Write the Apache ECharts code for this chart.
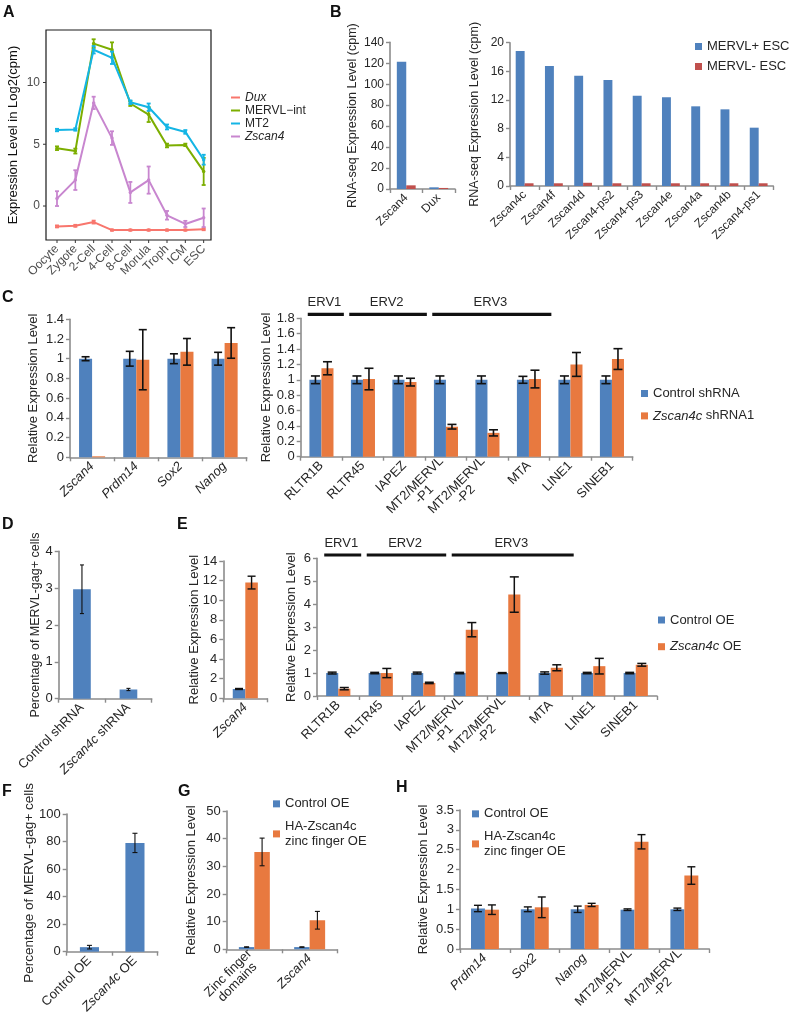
<!DOCTYPE html>
<html><head><meta charset="utf-8">
<script src="https://cdn.jsdelivr.net/npm/echarts@6/dist/echarts.min.js"></script>
<style>html,body{margin:0;padding:0;background:#fff}#c{width:791px;height:1032px}</style>
</head><body><div id="c"></div>
<script>
// ================= DATA =================
// Panel A
const stagesA = ['Oocyte','Zygote','2-Cell','4-Cell','8-Cell','Morula','Troph','ICM','ESC'];
const duxA = [-1.65,-1.6,-1.3,-1.95,-1.95,-1.95,-1.95,-1.95,-1.88];
const duxErrA = [0.08,0.08,0.12,0.05,0.05,0.05,0.05,0.05,0.08];
const mervlA = [4.68,4.45,13.15,12.65,8.3,7.4,4.9,4.95,2.8];
const mervlErrA = [0.15,0.2,0.35,0.6,0.2,0.6,0.15,0.1,1.1];
const mt2A = [6.15,6.2,12.65,12.0,8.4,8.0,6.4,6.0,3.75];
const mt2ErrA = [0.1,0.1,0.3,0.5,0.15,0.3,0.2,0.15,0.4];
const zscan4A = [0.6,2.1,8.35,5.5,1.1,2.1,-0.75,-1.45,-0.95];
const zscan4ErrA = [0.6,0.8,0.5,0.55,0.85,1.1,0.35,0.25,0.75];
const seriesNamesA = ['Dux','MERVL\u2212int','MT2','Zscan4'];
const yTicksA = [0,5,10];

// Panel B
const genesB1 = ['Zscan4','Dux'];
const posB1 = [121.5,1.6];
const negB1 = [3.5,1.0];
const genesB2 = ['Zscan4c','Zscan4f','Zscan4d','Zscan4-ps2','Zscan4-ps3','Zscan4e','Zscan4a','Zscan4b','Zscan4-ps1'];
const posB2 = [18.84,16.75,15.4,14.8,12.6,12.38,11.12,10.7,8.14];
const negB2 = [0.38,0.38,0.45,0.38,0.38,0.38,0.38,0.38,0.38];
const namesB = ['MERVL+ ESC','MERVL- ESC'];

// Panel C
const genesC1 = ['Zscan4','Prdm14','Sox2','Nanog'];
const ctrlC1 = [1.0,1.0,1.0,1.0];
const ctrlErrC1 = [0.02,0.075,0.05,0.065];
const kdC1 = [0.01,0.99,1.07,1.16];
const kdErrC1 = [0,0.305,0.135,0.155];
const repeatsC2 = ['RLTR1B','RLTR45','IAPEZ','MT2/MERVL\n-P1','MT2/MERVL\n-P2','MTA','LINE1','SINEB1'];
const ctrlC2 = [1,1,1,1,1,1,1,1];
const ctrlErrC2 = [0.05,0.05,0.05,0.05,0.05,0.045,0.05,0.05];
const kdC2 = [1.15,1.01,0.97,0.39,0.31,1.01,1.2,1.27];
const kdErrC2 = [0.085,0.14,0.05,0.03,0.04,0.115,0.155,0.135];
const namesC = ['Control shRNA','Zscan4c shRNA1'];
const ervNames = ['ERV1','ERV2','ERV3'];
const ervFrom = [0,1,3];
const ervTo = [0,2,5];

// Panel D
const catsD = ['Control shRNA','Zscan4c shRNA'];
const valsD = [2.97,0.25];
const errD = [0.66,0.03];

// Panel E
const genesE1 = ['Zscan4'];
const ctrlE1 = [0.95];
const ctrlErrE1 = [0.05];
const oeE1 = [11.8];
const oeErrE1 = [0.65];
const repeatsE2 = ['RLTR1B','RLTR45','IAPEZ','MT2/MERVL\n-P1','MT2/MERVL\n-P2','MTA','LINE1','SINEB1'];
const ctrlE2 = [1,1,1,1,1,1,1,1];
const ctrlErrE2 = [0.04,0.03,0.04,0.03,0.02,0.05,0.03,0.03];
const oeE2 = [0.32,1.0,0.57,2.89,4.42,1.23,1.3,1.36];
const oeErrE2 = [0.05,0.2,0.03,0.31,0.77,0.13,0.34,0.06];
const namesE = ['Control OE','Zscan4c OE'];

// Panel F
const catsF = ['Control OE','Zscan4c OE'];
const valsF = [3.3,79];
const errF = [1.3,7];

// Panel G
const catsG = ['Zinc finger\ndomains','Zscan4'];
const ctrlG = [0.8,0.8];
const ctrlErrG = [0.1,0.1];
const oeG = [35.2,10.5];
const oeErrG = [5,3.2];
const namesGH = ['Control OE','HA-Zscan4c\nzinc finger OE'];

// Panel H
const genesH = ['Prdm14','Sox2','Nanog','MT2/MERVL\n-P1','MT2/MERVL\n-P2'];
const ctrlH = [1.02,1.0,1.0,0.99,1.0];
const ctrlErrH = [0.08,0.06,0.08,0.02,0.03];
const oeH = [0.99,1.05,1.11,2.7,1.85];
const oeErrH = [0.12,0.26,0.04,0.18,0.22];

// ================= STYLE =================
const FONT = '"Liberation Sans", Arial, Helvetica, sans-serif';
const BLUE = '#4F81BD', ORANGE = '#E8793F', RED = '#C0504D';
const AX = '#8C8C8C', TXT = '#262626';
const colorsA = ['#F8766D','#7CAE00','#14B5E5','#C886CF'];

const grids = [], xAxes = [], yAxes = [], series = [], legends = [];

function richSet(fs) {
  return {
    i: {fontStyle:'italic', fontSize:fs, color:TXT, fontFamily:FONT},
    n: {fontSize:fs, color:TXT, fontFamily:FONT},
    c: {fontSize:fs, color:TXT, fontFamily:FONT, align:'center'}
  };
}
function mkFmt(italicWords) {
  return function (v) {
    if (v.indexOf('\n') >= 0) return v.split('\n').map(l => '{c|' + l + '}').join('\n');
    for (const w of italicWords) {
      if (v === w) return '{i|' + v + '}';
      if (v.indexOf(w + ' ') === 0) return '{i|' + w + '}{n|' + v.slice(w.length) + '}';
    }
    return '{n|' + v + '}';
  };
}

function errRender(k, n, gap, cap, lw, color) {
  return function (params, api) {
    const i = api.value(0), v = api.value(1), e = api.value(2);
    if (!e) return null;
    const band = api.size([1, 0])[0];
    const bw = band * (1 - gap) / n;
    const cx = api.coord([i, v])[0] + (k - (n - 1) / 2) * bw;
    const yt = api.coord([i, v + e])[1], yb = api.coord([i, v - e])[1];
    const st = {stroke: color, lineWidth: lw};
    return {type:'group', children:[
      {type:'line', shape:{x1:cx,y1:yt,x2:cx,y2:yb}, style:st},
      {type:'line', shape:{x1:cx-cap,y1:yt,x2:cx+cap,y2:yt}, style:st},
      {type:'line', shape:{x1:cx-cap,y1:yb,x2:cx+cap,y2:yb}, style:st}
    ]};
  };
}

function addBarPanel(cfg) {
  const gi = grids.length;
  const fs = cfg.fs || 13;
  grids.push({left:cfg.rect[0], top:cfg.rect[1], width:cfg.rect[2], height:cfg.rect[3], outerBoundsMode:'none', containLabel:false});
  xAxes.push({
    gridIndex:gi, type:'category', data:cfg.cats,
    axisLine:{show:true, onZero:false, lineStyle:{color:AX, width:1.6}},
    axisTick:{show:true, alignWithLabel:false, length:4, lineStyle:{color:AX, width:1.4}},
    axisLabel:{interval:0, rotate:45, margin:cfg.xMargin || 7, fontSize:fs, color:TXT,
      formatter: mkFmt(cfg.italic || []), rich: richSet(fs)}
  });
  yAxes.push({
    gridIndex:gi, type:'value', min:0, max:cfg.max, interval:cfg.interval,
    name:cfg.yname, nameLocation:'middle', nameRotate:90, nameGap:cfg.nameGap, nameMoveOverlap:false,
    nameTextStyle:{fontSize:cfg.nfs || 13, color:TXT, fontFamily:FONT},
    axisLine:{show:true, onZero:false, lineStyle:{color:AX, width:1.6}},
    axisTick:{show:true, length:4, lineStyle:{color:AX, width:1.4}},
    splitLine:{show:false},
    axisLabel:{fontSize:fs, color:TXT, margin:6}
  });
  const n = cfg.series.length;
  cfg.series.forEach((s, k) => {
    series.push({type:'bar', name:s.name, xAxisIndex:gi, yAxisIndex:gi, data:s.data,
      barGap:'0%', barCategoryGap:(cfg.gap*100)+'%', itemStyle:{color:s.color}, silent:true, z:2});
    if (s.err) {
      series.push({type:'custom', xAxisIndex:gi, yAxisIndex:gi, silent:true, z:5,
        renderItem: errRender(k, n, cfg.gap, cfg.cap || 3.5, cfg.elw || 1.4, '#111'),
        data: s.data.map((v, i) => [i, v, s.err[i]])});
    }
  });
  return gi;
}

function addBrackets(gi, lineOff, textOff) {
  series.push({type:'custom', xAxisIndex:gi, yAxisIndex:gi, silent:true, clip:false, z:6,
    encode:{x:0, y:1},
    data: ervFrom.map((f, j) => [f, 0, ervTo[j]]),
    renderItem: function (params, api) {
      const cs = params.coordSys;
      const f = api.value(0), t = api.value(2);
      const band = api.size([1, 0])[0];
      const cf = api.coord([f, 0])[0], ct = api.coord([t, 0])[0];
      const x1 = cf - band/2 + 0.17*band, x2 = ct + band/2 + 0.04*band;
      const ly = cs.y - lineOff;
      return {type:'group', children:[
        {type:'rect', shape:{x:x1, y:ly-1.6, width:x2-x1, height:3.2}, style:{fill:'#111'}},
        {type:'text', style:{text:ervNames[params.dataIndex], x:(cf+ct)/2+3, y:cs.y - textOff,
          align:'center', verticalAlign:'middle', fontSize:13, fontFamily:FONT, fill:TXT}}
      ]};
    }
  });
}

function legendBox(cfg) {
  const fs = cfg.fs || 13;
  legends.push({
    orient:'vertical', left:cfg.left, top:cfg.top, itemGap:cfg.gap, padding:0,
    itemWidth:cfg.iw || 7, itemHeight:cfg.ih || 7, icon:'rect', selectedMode:false,
    data:cfg.data,
    formatter: cfg.formatter,
    textStyle:{fontSize:fs, lineHeight:cfg.lh || 15, color:TXT, fontFamily:FONT,
      rich:{i:{fontStyle:'italic', fontSize:fs, lineHeight:cfg.lh || 15, color:TXT, fontFamily:FONT},
            n:{fontSize:fs, lineHeight:cfg.lh || 15, color:TXT, fontFamily:FONT}}}
  });
}

// ================= PANEL A =================
(function () {
  const gi = grids.length;
  grids.push({left:46, top:30, width:165, height:210, show:true, borderColor:'#1a1a1a', borderWidth:1.2,
    outerBoundsMode:'none'});
  const idx = stagesA.map((s, i) => i);
  xAxes.push({gridIndex:gi, type:'value', min:-0.6, max:8.4,
    axisLine:{show:false, onZero:false}, splitLine:{show:false}, axisTick:{show:false},
    axisLabel:{customValues:idx, rotate:45, margin:7, fontSize:12, color:'#4d4d4d',
      formatter: v => stagesA[Math.round(v)]}
  });
  yAxes.push({gridIndex:gi, type:'value', min:-2.75, max:14.25,
    name:'Expression Level in Log2(cpm)', nameLocation:'middle', nameRotate:90, nameGap:26, nameMoveOverlap:false,
    nameTextStyle:{fontSize:13, color:'#111', fontFamily:FONT},
    axisLine:{show:false, onZero:false}, splitLine:{show:false}, axisTick:{show:false},
    axisLabel:{customValues:yTicksA, fontSize:12, color:'#4d4d4d', margin:6}
  });
  // outward tick marks on the box edges
  series.push({type:'custom', xAxisIndex:gi, yAxisIndex:gi, silent:true, clip:false, z:8,
    data: idx.map(i => [i, 0]),
    renderItem: function (params, api) {
      const cs = params.coordSys, x = api.coord([api.value(0), 0])[0], yb = cs.y + cs.height;
      return {type:'line', shape:{x1:x, y1:yb, x2:x, y2:yb + 3}, style:{stroke:'#333', lineWidth:1}};
    }});
  series.push({type:'custom', xAxisIndex:gi, yAxisIndex:gi, silent:true, clip:false, z:8,
    data: yTicksA.map(v => [0, v]),
    renderItem: function (params, api) {
      const cs = params.coordSys, y = api.coord([0, api.value(1)])[1];
      return {type:'line', shape:{x1:cs.x - 3, y1:y, x2:cs.x, y2:y}, style:{stroke:'#333', lineWidth:1}};
    }});
  const vals = [duxA, mervlA, mt2A, zscan4A];
  const errs = [duxErrA, mervlErrA, mt2ErrA, zscan4ErrA];
  vals.forEach((arr, k) => {
    series.push({type:'line', name:seriesNamesA[k], xAxisIndex:gi, yAxisIndex:gi,
      data:arr.map((v, i) => [i, v]), symbol:'circle', symbolSize:3.5, silent:true,
      lineStyle:{width:2, color:colorsA[k]}, itemStyle:{color:colorsA[k]}, z:3+k});
    series.push({type:'custom', xAxisIndex:gi, yAxisIndex:gi, silent:true, z:3+k,
      data:arr.map((v, i) => [i, v, errs[k][i]]),
      renderItem: function (params, api) {
        const i = api.value(0), v = api.value(1), e = api.value(2);
        const cx = api.coord([i, v])[0];
        const yt = api.coord([i, v + e])[1], yb = api.coord([i, v - e])[1];
        const st = {stroke: colorsA[k], lineWidth: 1.8};
        return {type:'group', children:[
          {type:'line', shape:{x1:cx,y1:yt,x2:cx,y2:yb}, style:st},
          {type:'line', shape:{x1:cx-2,y1:yt,x2:cx+2,y2:yt}, style:st},
          {type:'line', shape:{x1:cx-2,y1:yb,x2:cx+2,y2:yb}, style:st}
        ]};
      }});
  });
  legendBox({left:231, top:91, gap:0, iw:9, ih:2, fs:12, lh:13, data:seriesNamesA,
    formatter: n => (n === 'Dux' || n === 'Zscan4') ? '{i|' + n + '}' : '{n|' + n + '}'});
})();

// ================= PANEL B =================
addBarPanel({rect:[390,42.3,65,146.7], cats:genesB1, max:140, interval:20, gap:0.42, fs:12, nfs:12.5,
  yname:'RNA-seq Expression Level (cpm)', nameGap:31,
  series:[{name:namesB[0], data:posB1, color:BLUE}, {name:namesB[1], data:negB1, color:RED}]});
addBarPanel({rect:[510,42.7,263.3,143.3], cats:genesB2, max:20, interval:4, gap:0.39, fs:12, nfs:12.5,
  yname:'RNA-seq Expression Level (cpm)', nameGap:29,
  series:[{name:namesB[0], data:posB2, color:BLUE}, {name:namesB[1], data:negB2, color:RED}]});
legendBox({left:695, top:39, gap:5, data:namesB, fs:13, lh:15, formatter: n => '{n|' + n + '}'});

// ================= PANEL C =================
addBarPanel({rect:[70,319.3,176.7,138], cats:genesC1, max:1.4, interval:0.2, gap:0.41,
  italic:genesC1, yname:'Relative Expression Level', nameGap:30, cap:4, elw:1.6,
  series:[{name:namesC[0], data:ctrlC1, err:ctrlErrC1, color:BLUE}, {name:namesC[1], data:kdC1, err:kdErrC1, color:ORANGE}]});
const gC2 = addBarPanel({rect:[300.7,318.3,332,138.4], cats:repeatsC2, max:1.8, interval:0.2, gap:0.42,
  yname:'Relative Expression Level', nameGap:27.5, cap:4.5, elw:1.6,
  series:[{name:namesC[0], data:ctrlC2, err:ctrlErrC2, color:BLUE}, {name:namesC[1], data:kdC2, err:kdErrC2, color:ORANGE}]});
addBrackets(gC2, 4, 16);
legendBox({left:641, top:386, gap:7.4, data:namesC, fs:13, lh:15,
  formatter: n => n.indexOf('Zscan4c') === 0 ? '{i|Zscan4c}{n|' + n.slice(7) + '}' : '{n|' + n + '}'});

// ================= PANEL D =================
addBarPanel({rect:[58.7,551.3,93,147.4], cats:catsD, max:4, interval:1, gap:0.62,
  italic:['Zscan4c'], yname:'Percentage of MERVL-gag+ cells', nameGap:17, nfs:12.5, cap:2, elw:1.1,
  series:[{name:'D', data:valsD, err:errD, color:BLUE}]});

// ================= PANEL E =================
addBarPanel({rect:[223.3,561,44,137.3], cats:genesE1, max:14, interval:2, gap:0.43,
  italic:genesE1, yname:'Relative Expression Level', nameGap:22, cap:4, elw:1.4,
  series:[{name:namesE[0], data:ctrlE1, err:ctrlErrE1, color:BLUE}, {name:namesE[1], data:oeE1, err:oeErrE1, color:ORANGE}]});
const gE2 = addBarPanel({rect:[317,558.3,340,137.7], cats:repeatsE2, max:6, interval:1, gap:0.43,
  yname:'Relative Expression Level', nameGap:19.5, cap:4.5, elw:1.5,
  series:[{name:namesE[0], data:ctrlE2, err:ctrlErrE2, color:BLUE}, {name:namesE[1], data:oeE2, err:oeErrE2, color:ORANGE}]});
addBrackets(gE2, 3.3, 15);
legendBox({left:658, top:612.5, gap:11.7, data:namesE, fs:13, lh:15,
  formatter: n => n.indexOf('Zscan4c') === 0 ? '{i|Zscan4c}{n|' + n.slice(7) + '}' : '{n|' + n + '}'});

// ================= PANEL F =================
addBarPanel({rect:[66.7,814,91,137.7], cats:catsF, max:100, interval:20, gap:0.58,
  italic:['Zscan4c'], yname:'Percentage of MERVL-gag+ cells', nameGap:30, nfs:13.5, cap:2.5, elw:1.1,
  series:[{name:'F', data:valsF, err:errF, color:BLUE}]});

// ================= PANEL G =================
addBarPanel({rect:[226.7,811,110.6,138.3], cats:catsG, max:50, interval:10, gap:0.44,
  italic:['Zscan4'], yname:'Relative Expression Level', nameGap:28.5, cap:2.5, elw:1.1,
  series:[{name:namesGH[0], data:ctrlG, err:ctrlErrG, color:BLUE}, {name:namesGH[1], data:oeG, err:oeErrG, color:ORANGE}]});
legendBox({left:273, top:796, gap:6.5, data:namesGH, fs:13, lh:15.7, formatter: n => n});

// ================= PANEL H =================
addBarPanel({rect:[460,810,249.3,139], cats:genesH, max:3.5, interval:0.5, gap:0.44,
  italic:['Prdm14','Sox2','Nanog'], yname:'Relative Expression Level', nameGap:30, cap:4, elw:1.4,
  series:[{name:namesGH[0], data:ctrlH, err:ctrlErrH, color:BLUE}, {name:namesGH[1], data:oeH, err:oeErrH, color:ORANGE}]});
legendBox({left:472, top:806, gap:6.5, data:namesGH, fs:13, lh:15.7, formatter: n => n});

// ================= LETTERS =================
const letters = [['A',3,5],['B',330,5],['C',2,290],['D',2,517],['E',177,517],['F',2,784],['G',178,784],['H',396,780]];

const chart = echarts.init(document.getElementById('c'), null, {renderer:'canvas'});
chart.setOption({
  animation:false,
  backgroundColor:'#fff',
  textStyle:{fontFamily:FONT},
  title: letters.map(l => ({text:l[0], left:l[1], top:l[2], padding:0,
    textStyle:{fontSize:16, fontWeight:'bold', color:'#111', fontFamily:FONT}})),
  grid:grids, xAxis:xAxes, yAxis:yAxes, legend:legends, series:series
});
</script></body></html>
